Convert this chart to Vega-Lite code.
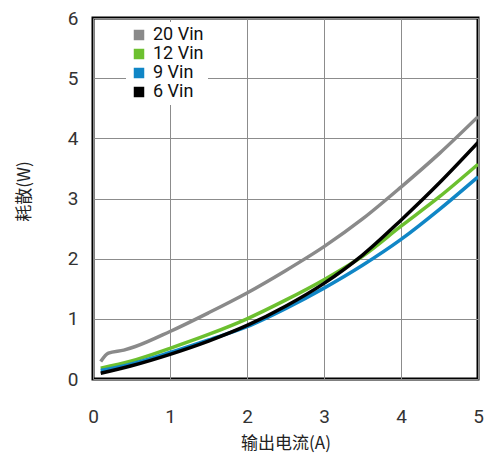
{
  "$schema": "https://vega.github.io/schema/vega-lite/v6.json",
  "width": 385,
  "height": 361,
  "autosize": {"type": "none"},
  "padding": {"left": 93, "top": 18, "right": 8, "bottom": 74},
  "background": "white",
  "config": {
    "font": "Roboto, Noto Sans CJK SC",
    "view": {"stroke": "black", "strokeWidth": 3},
    "axis": {"grid": true, "gridColor": "#8c8c8c", "gridWidth": 1, "gridOpacity": 1, "domain": false, "ticks": false, "labelColor": "#333333", "titleColor": "#222222", "labelFont": "Roboto", "titleFont": "Noto Sans CJK SC", "titleFontWeight": "normal"}
  },
  "data": {
    "values": [
      {"x": 0.1, "y": 0.29, "s": "20 Vin"},
      {"x": 0.2, "y": 0.43, "s": "20 Vin"},
      {"x": 0.4, "y": 0.48, "s": "20 Vin"},
      {"x": 0.55, "y": 0.54, "s": "20 Vin"},
      {"x": 1.0, "y": 0.79, "s": "20 Vin"},
      {"x": 1.5, "y": 1.10, "s": "20 Vin"},
      {"x": 2.0, "y": 1.43, "s": "20 Vin"},
      {"x": 2.5, "y": 1.80, "s": "20 Vin"},
      {"x": 3.0, "y": 2.20, "s": "20 Vin"},
      {"x": 3.5, "y": 2.66, "s": "20 Vin"},
      {"x": 4.0, "y": 3.19, "s": "20 Vin"},
      {"x": 4.5, "y": 3.75, "s": "20 Vin"},
      {"x": 5.0, "y": 4.36, "s": "20 Vin"},
      {"x": 0.1, "y": 0.18, "s": "12 Vin"},
      {"x": 0.5, "y": 0.30, "s": "12 Vin"},
      {"x": 1.0, "y": 0.51, "s": "12 Vin"},
      {"x": 1.5, "y": 0.74, "s": "12 Vin"},
      {"x": 2.0, "y": 1.00, "s": "12 Vin"},
      {"x": 2.5, "y": 1.31, "s": "12 Vin"},
      {"x": 3.0, "y": 1.65, "s": "12 Vin"},
      {"x": 3.5, "y": 2.04, "s": "12 Vin"},
      {"x": 4.0, "y": 2.54, "s": "12 Vin"},
      {"x": 4.5, "y": 3.03, "s": "12 Vin"},
      {"x": 5.0, "y": 3.57, "s": "12 Vin"},
      {"x": 0.1, "y": 0.14, "s": "9 Vin"},
      {"x": 0.5, "y": 0.25, "s": "9 Vin"},
      {"x": 1.0, "y": 0.44, "s": "9 Vin"},
      {"x": 1.5, "y": 0.65, "s": "9 Vin"},
      {"x": 2.0, "y": 0.87, "s": "9 Vin"},
      {"x": 2.5, "y": 1.17, "s": "9 Vin"},
      {"x": 3.0, "y": 1.51, "s": "9 Vin"},
      {"x": 3.5, "y": 1.89, "s": "9 Vin"},
      {"x": 4.0, "y": 2.32, "s": "9 Vin"},
      {"x": 4.5, "y": 2.82, "s": "9 Vin"},
      {"x": 5.0, "y": 3.36, "s": "9 Vin"},
      {"x": 0.1, "y": 0.095, "s": "6 Vin"},
      {"x": 0.5, "y": 0.22, "s": "6 Vin"},
      {"x": 1.0, "y": 0.41, "s": "6 Vin"},
      {"x": 1.5, "y": 0.63, "s": "6 Vin"},
      {"x": 2.0, "y": 0.89, "s": "6 Vin"},
      {"x": 2.5, "y": 1.21, "s": "6 Vin"},
      {"x": 3.0, "y": 1.59, "s": "6 Vin"},
      {"x": 3.5, "y": 2.06, "s": "6 Vin"},
      {"x": 4.0, "y": 2.64, "s": "6 Vin"},
      {"x": 4.5, "y": 3.26, "s": "6 Vin"},
      {"x": 5.0, "y": 3.93, "s": "6 Vin"}
    ]
  },
  "mark": {"type": "line", "interpolate": "monotone", "strokeWidth": 3.5, "clip": true},
  "encoding": {
    "x": {
      "field": "x", "type": "quantitative",
      "scale": {"domain": [0, 5], "nice": false},
      "axis": {"values": [0, 1, 2, 3, 4, 5], "labelFontSize": 19, "labelPadding": 28, "labelFlush": false, "title": "输出电流(A)", "titleFontSize": 17, "titlePadding": 9}
    },
    "y": {
      "field": "y", "type": "quantitative",
      "scale": {"domain": [0, 6], "nice": false},
      "axis": {"values": [0, 1, 2, 3, 4, 5, 6], "labelFontSize": 19, "labelPadding": 15, "labelFlush": false, "title": "耗散(W)", "titleFontSize": 17, "titlePadding": 34, "titleY": 173}
    },
    "color": {
      "field": "s", "type": "nominal",
      "scale": {"domain": ["20 Vin", "12 Vin", "9 Vin", "6 Vin"], "range": ["#8a8a8a", "#6cc02f", "#1086c6", "#000000"]},
      "legend": {
        "title": null, "orient": "none", "legendX": 33, "legendY": 4,
        "symbolType": "square", "symbolSize": 110, "symbolStrokeWidth": 0, "symbolOpacity": 1,
        "labelFontSize": 18, "labelColor": "#111111", "labelFont": "Roboto", "labelOffset": 5,
        "rowPadding": 1, "padding": 4, "fillColor": "white", "strokeColor": null,
        "encode": {"symbols": {"update": {"fill": {"scale": "color", "field": "value"}, "stroke": {"value": "transparent"}}}}
      }
    }
  }
}
